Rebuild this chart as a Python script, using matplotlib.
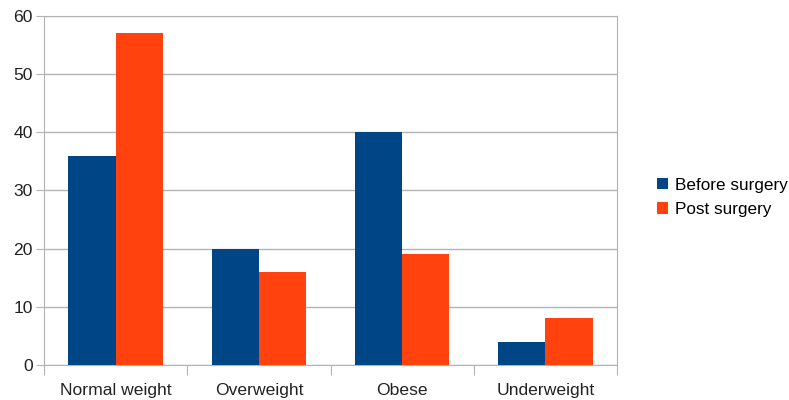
import numpy as np
import matplotlib.pyplot as plt

# data
categories = ["Normal weight", "Overweight", "Obese", "Underweight"]
before_surgery = [36, 20, 40, 4]
post_surgery = [57, 16, 19, 8]

plt.rcParams['font.family'] = ['Liberation Sans', 'DejaVu Sans']

fig = plt.figure(figsize=(7.89, 4.0), dpi=100)
ax = fig.add_axes([0.0558, 0.0875, 0.7262, 0.8725])

x = np.arange(len(categories))
w = 0.33
ax.bar(x - w / 2, before_surgery, w, color="#004586", label="Before surgery", zorder=3)
ax.bar(x + w / 2, post_surgery, w, color="#ff420e", label="Post surgery", zorder=3)

ax.set_xlim(-0.5, len(categories) - 0.5)
ax.set_ylim(0, 60)
ax.set_yticks(range(0, 61, 10))
ax.yaxis.grid(True, color="#b3b3b3", linewidth=1, zorder=0)

# category labels between boundary ticks
ax.set_xticks(np.arange(-0.5, len(categories), 1))
ax.set_xticklabels([])
ax.set_xticks(x, minor=True)
ax.set_xticklabels(categories, minor=True)
ax.tick_params(axis="x", which="minor", length=0, pad=13, labelsize=12.6, labelcolor="#222222")
ax.tick_params(axis="x", which="major", length=7, color="#b3b3b3")
ax.tick_params(axis="y", length=6, color="#b3b3b3", labelsize=12.6, labelcolor="#222222", pad=2)

for s in ax.spines.values():
    s.set_color("#b3b3b3")

ax.legend(loc="center left", bbox_to_anchor=(1.055, 0.48), frameon=False,
          fontsize=12.3, handlelength=0.65, handleheight=0.65, handletextpad=0.4,
          labelspacing=0.55, borderpad=0)

fig.savefig("out.png", dpi=100)
